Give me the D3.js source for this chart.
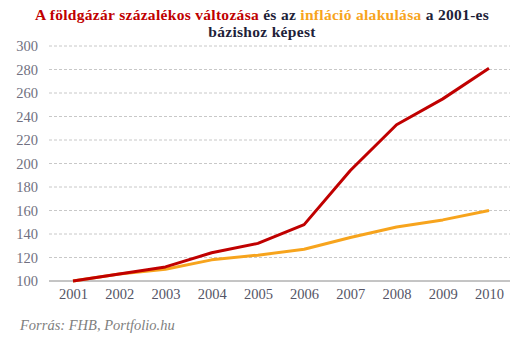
<!DOCTYPE html>
<html><head><meta charset="utf-8">
<script src="https://cdn.jsdelivr.net/npm/d3@7"></script>
<style>body{margin:0;background:#fff}svg{display:block}</style>
</head><body>
<svg id="c" width="525" height="337"></svg>
<script>
const years = [2001,2002,2003,2004,2005,2006,2007,2008,2009,2010];
const gas = [100,106,112,124,132,148,194,233,255,281];
const inflation = [100,106,110,118,122,127,137,146,152,160];
const yTicks = [100,120,140,160,180,200,220,240,260,280,300];

const svg = d3.select("#c");
const font = "'Liberation Serif', 'DejaVu Serif', serif";
const x = d3.scalePoint().domain(years).range([73,489]);
const y = d3.scaleLinear().domain([100,300]).range([281,46]);

// grid
svg.append("g").selectAll("line").data(yTicks.filter(d=>d>100)).join("line")
  .attr("x1",49).attr("x2",510).attr("y1",d=>y(d)).attr("y2",d=>y(d))
  .attr("stroke","#c8c8c8").attr("stroke-dasharray","3,2").attr("stroke-width",1);
svg.append("line").attr("x1",49).attr("x2",510).attr("y1",y(100)).attr("y2",y(100))
  .attr("stroke","#8a8a8a").attr("stroke-width",1);

// y labels
const yAxis = d3.axisLeft(y).tickValues(yTicks).tickSize(0).tickPadding(0);
const ga = svg.append("g").attr("transform","translate(38,0)").call(yAxis);
ga.select(".domain").remove();
ga.selectAll("text").attr("font-family",font).attr("font-size",14.5).attr("fill","#707080");

// x labels
const xAxis = d3.axisBottom(x).tickSize(0).tickPadding(0);
const gx = svg.append("g").attr("transform","translate(0,289)").call(xAxis);
gx.select(".domain").remove();
gx.selectAll("text").attr("font-family",font).attr("font-size",14.5).attr("fill","#555566");

const line = d3.line().x((d,i)=>x(years[i])).y(d=>y(d));
svg.append("path").datum(inflation).attr("d",line).attr("fill","none")
  .attr("stroke","#f7a41d").attr("stroke-width",3).attr("stroke-linejoin","round");
svg.append("path").datum(gas).attr("d",line).attr("fill","none")
  .attr("stroke","#c00000").attr("stroke-width",3).attr("stroke-linejoin","round");

// title
const t = svg.append("text").attr("x",262).attr("y",20).attr("text-anchor","middle")
  .attr("font-family",font).attr("font-size",15.5).attr("font-weight","bold")
  .attr("letter-spacing",0.3);
t.append("tspan").attr("fill","#c00000").text("A földgázár százalékos változása");
t.append("tspan").attr("fill","#1f1f3a").text(" és az ");
t.append("tspan").attr("fill","#f7a41d").text("infláció alakulása");
t.append("tspan").attr("fill","#1f1f3a").text(" a 2001-es");
svg.append("text").attr("x",262).attr("y",37).attr("text-anchor","middle")
  .attr("font-family",font).attr("font-size",15.5).attr("font-weight","bold")
  .attr("letter-spacing",0.3).attr("fill","#1f1f3a").text("bázishoz képest");

// source
svg.append("text").attr("x",20).attr("y",330).attr("font-family",font)
  .attr("font-size",14.5).attr("font-style","italic").attr("fill","#808080")
  .text("Forrás: FHB, Portfolio.hu");
</script>
</body></html>
